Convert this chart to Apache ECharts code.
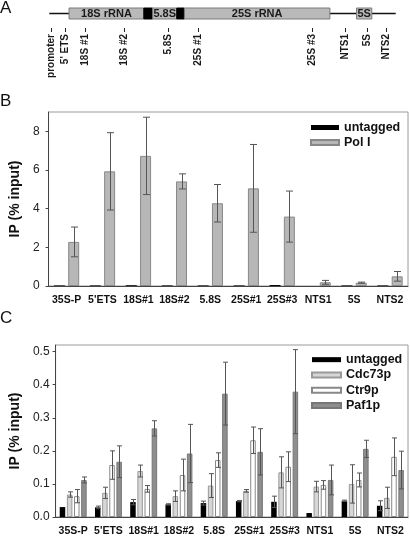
<!DOCTYPE html>
<html><head><meta charset="utf-8">
<script src="https://cdn.jsdelivr.net/npm/echarts@6/dist/echarts.min.js"></script>
<style>html,body{margin:0;padding:0;background:#fff}#c{width:410px;height:537px}</style>
</head><body><div id="c"></div>
<script>
const FONT = "'Liberation Sans', Arial, sans-serif";

// ---- Panel A: gene map (arbitrary position units along the locus, 0-100)
const lineExtent = [0, 100];
const segStart = [5.7, 27.3, 29.85, 36.8, 39.0, 88.7];
const segEnd   = [27.3, 29.85, 36.8, 39.0, 81.0, 93.1];
const segLabel = ['18S rRNA', '', '5.8S', '', '25S rRNA', '5S'];
const segKind  = ['rrna', 'spacer', 'rrna', 'spacer', 'rrna', 'rrna'];
const siteNames = ['promoter', "5' ETS", '18S #1', '18S #2', '5.8S', '25S #1', '25S #3', 'NTS1', '5S', 'NTS2'];
const sitePos   = [0.6, 4.5, 10.3, 21.6, 34.4, 42.8, 75.7, 85.5, 91.6, 97.2];

// ---- Shared categories
const categories = ['35S-P', "5'ETS", '18S#1', '18S#2', '5.8S', '25S#1', '25S#3', 'NTS1', '5S', 'NTS2'];

// ---- Panel B
const bUntagged = [0.03, 0.03, 0.04, 0.03, 0.03, 0.03, 0.05, 0.0, 0.03, 0.03];
const bPolI     = [2.28, 5.93, 6.73, 5.41, 4.28, 5.05, 3.59, 0.19, 0.17, 0.50];
const bPolIErr  = [0.77, 2.00, 2.00, 0.39, 0.97, 2.27, 1.32, 0.10, 0.03, 0.25];

// ---- Panel C
const cUntagged    = [0.030, 0.029, 0.045, 0.038, 0.042, 0.048, 0.046, 0.012, 0.049, 0.034];
const cUntaggedErr = [0, 0.004, 0.008, 0.002, 0.006, 0.002, 0.017, 0, 0.002, 0.015];
const cCdc73       = [0.068, 0.073, 0.139, 0.063, 0.095, 0.079, 0.135, 0.092, 0.100, 0.058];
const cCdc73Err    = [0.008, 0.017, 0.018, 0.016, 0.036, 0.004, 0.047, 0.016, 0.058, 0.032];
const cCtr9        = [0.063, 0.157, 0.085, 0.127, 0.172, 0.232, 0.152, 0.097, 0.112, 0.182];
const cCtr9Err     = [0.020, 0.043, 0.010, 0.048, 0.022, 0.040, 0.045, 0.013, 0.021, 0.057];
const cPaf1        = [0.112, 0.167, 0.268, 0.192, 0.373, 0.197, 0.379, 0.112, 0.206, 0.142];
const cPaf1Err     = [0.009, 0.048, 0.023, 0.088, 0.095, 0.070, 0.127, 0.045, 0.026, 0.057];

const chart = echarts.init(document.getElementById('c'), null, {renderer: 'canvas'});

function errRender(idx, n, bw, gapRatio, cap, color) {
  return function (params, api) {
    const e = api.value(2);
    if (!e) return {type: 'group', children: []};
    const cat = api.value(0), v = api.value(1);
    const top = api.coord([cat, v + e]);
    const bot = api.coord([cat, Math.max(v - e, 0)]);
    const gap = bw * gapRatio;
    const total = n * bw + (n - 1) * gap;
    const x = Math.round(top[0] - total / 2 + idx * (bw + gap) + bw / 2) + 0.5;
    const st = {stroke: color, lineWidth: 1};
    return {type: 'group', children: [
      {type: 'line', shape: {x1: x, y1: top[1], x2: x, y2: bot[1]}, style: st},
      {type: 'line', shape: {x1: x - cap / 2, y1: top[1], x2: x + cap / 2, y2: top[1]}, style: st},
      {type: 'line', shape: {x1: x - cap / 2, y1: bot[1], x2: x + cap / 2, y2: bot[1]}, style: st}
    ]};
  };
}
function errData(vals, errs) { return vals.map((v, i) => [i, v, errs[i]]); }

const catAxis = (gi) => ({
  gridIndex: gi, type: 'category', data: categories,
  axisLine: {lineStyle: {color: '#444', width: 1}},
  axisTick: {show: false},
  axisLabel: {interval: 0, fontFamily: FONT, fontSize: 10.5, fontWeight: 'bold', color: '#111', margin: 9}
});
const valAxis = (gi, max, interval, margin, fmt) => ({
  gridIndex: gi, type: 'value', min: 0, max: max, interval: interval,
  name: 'IP (% input)', nameLocation: 'middle', nameGap: 24, nameRotate: 90,
  nameTextStyle: {fontFamily: FONT, fontSize: 14, fontWeight: 'bold', color: '#111'},
  axisLine: {show: true, lineStyle: {color: '#444', width: 1}},
  axisTick: {show: true, length: 3, lineStyle: {color: '#444'}},
  splitLine: {show: false},
  axisLabel: {fontFamily: FONT, fontSize: 12, color: '#222', margin: margin, showMaxLabel: false, formatter: fmt}
});

const BW_B = 11, GAP_B = 0.3, BW_C = 5.5, GAP_C = 0.3;
const ERRC = '#555';

const option = {
  animation: false,
  backgroundColor: '#fff',
  textStyle: {fontFamily: FONT},
  title: [
    {text: 'A', left: 0, top: 0, textStyle: {fontFamily: FONT, fontSize: 17, fontWeight: 'normal', color: '#111'}, padding: 0},
    {text: 'B', left: 0, top: 93, textStyle: {fontFamily: FONT, fontSize: 17, fontWeight: 'normal', color: '#111'}, padding: 0},
    {text: 'C', left: 0, top: 310, textStyle: {fontFamily: FONT, fontSize: 17, fontWeight: 'normal', color: '#111'}, padding: 0}
  ],
  legend: [
    {data: ['untagged', 'Pol I'], orient: 'vertical', left: 310, top: 120, padding: 0, itemGap: 0,
     itemWidth: 28, itemHeight: 5, icon: 'rect', selectedMode: false,
     textStyle: {fontFamily: FONT, fontSize: 12.5, fontWeight: 'bold', color: '#111', lineHeight: 15}},
    {data: ['untagged', 'Cdc73p', 'Ctr9p', 'Paf1p'], orient: 'vertical', left: 311, top: 352, padding: 0, itemGap: 0,
     itemWidth: 29, itemHeight: 5, icon: 'rect', selectedMode: false,
     textStyle: {fontFamily: FONT, fontSize: 12.5, fontWeight: 'bold', color: '#111', lineHeight: 15.3}}
  ],
  grid: [
    {left: 43, right: 2, top: 112, height: 174, show: true, borderColor: '#9a9a9a', borderWidth: 1, backgroundColor: 'transparent'},
    {left: 43, right: 2, top: 345, height: 174, show: true, borderColor: '#9a9a9a', borderWidth: 1, backgroundColor: 'transparent'},
    {left: 49.3, right: 14.3, top: 8, height: 11}
  ],
  xAxis: [
    catAxis(0), catAxis(1),
    {gridIndex: 2, type: 'value', min: lineExtent[0], max: lineExtent[1], show: false}
  ],
  yAxis: [
    valAxis(0, 9, 2, 9, v => String(v)),
    valAxis(1, 0.52, 0.1, 6, v => v.toFixed(1)),
    {gridIndex: 2, type: 'value', min: 0, max: 1, show: false}
  ],
  series: [
    // Panel B
    {name: 'untagged', type: 'bar', xAxisIndex: 0, yAxisIndex: 0, data: bUntagged, barWidth: BW_B, barGap: '30%',
     itemStyle: {color: '#000'}},
    {name: 'Pol I', type: 'bar', xAxisIndex: 0, yAxisIndex: 0, data: bPolI, barWidth: BW_B, barGap: '30%',
     itemStyle: {color: '#b7b7b7', borderColor: '#888', borderWidth: 1}},
    {name: 'errPolI', type: 'custom', xAxisIndex: 0, yAxisIndex: 0, data: errData(bPolI, bPolIErr),
     encode: {x: 0, y: 1}, z: 5, renderItem: errRender(1, 2, BW_B, GAP_B, 7, ERRC)},
    // Panel C
    {name: 'untagged', type: 'bar', xAxisIndex: 1, yAxisIndex: 1, data: cUntagged, barWidth: BW_C, barGap: '30%',
     itemStyle: {color: '#000'}},
    {name: 'Cdc73p', type: 'bar', xAxisIndex: 1, yAxisIndex: 1, data: cCdc73, barWidth: BW_C, barGap: '30%',
     itemStyle: {color: '#d6d6d6', borderColor: '#999', borderWidth: 1}},
    {name: 'Ctr9p', type: 'bar', xAxisIndex: 1, yAxisIndex: 1, data: cCtr9, barWidth: BW_C, barGap: '30%',
     itemStyle: {color: '#ffffff', borderColor: '#888', borderWidth: 1}},
    {name: 'Paf1p', type: 'bar', xAxisIndex: 1, yAxisIndex: 1, data: cPaf1, barWidth: BW_C, barGap: '30%',
     itemStyle: {color: '#8e8e8e', borderColor: '#777', borderWidth: 1}},
    {name: 'errU', type: 'custom', xAxisIndex: 1, yAxisIndex: 1, data: errData(cUntagged, cUntaggedErr),
     encode: {x: 0, y: 1}, z: 5, renderItem: errRender(0, 4, BW_C, GAP_C, 5, ERRC)},
    {name: 'errCdc', type: 'custom', xAxisIndex: 1, yAxisIndex: 1, data: errData(cCdc73, cCdc73Err),
     encode: {x: 0, y: 1}, z: 5, renderItem: errRender(1, 4, BW_C, GAP_C, 5, ERRC)},
    {name: 'errCtr', type: 'custom', xAxisIndex: 1, yAxisIndex: 1, data: errData(cCtr9, cCtr9Err),
     encode: {x: 0, y: 1}, z: 5, renderItem: errRender(2, 4, BW_C, GAP_C, 5, ERRC)},
    {name: 'errPaf', type: 'custom', xAxisIndex: 1, yAxisIndex: 1, data: errData(cPaf1, cPaf1Err),
     encode: {x: 0, y: 1}, z: 5, renderItem: errRender(3, 4, BW_C, GAP_C, 5, ERRC)},
    // Panel A
    {name: 'backbone', type: 'line', xAxisIndex: 2, yAxisIndex: 2, data: lineExtent.map(x => [x, 0.5]),
     showSymbol: false, symbol: 'none', z: 1, lineStyle: {color: '#111', width: 1.3}, silent: true},
    {name: 'segments', type: 'custom', xAxisIndex: 2, yAxisIndex: 2, z: 3,
     data: segStart.map((s, i) => [s, segEnd[i]]), encode: {x: [0, 1]},
     renderItem: function (params, api) {
       const i = params.dataIndex;
       const p0 = api.coord([api.value(0), 1]);
       const p1 = api.coord([api.value(1), 0]);
       const spacer = segKind[i] === 'spacer';
       const children = [{type: 'rect', shape: {x: p0[0], y: p0[1], width: p1[0] - p0[0], height: p1[1] - p0[1]},
         style: {fill: spacer ? '#000' : '#b9b9b9', stroke: spacer ? '#000' : '#7a7a7a', lineWidth: 1}}];
       if (segLabel[i]) children.push({type: 'text', x: (p0[0] + p1[0]) / 2, y: (p0[1] + p1[1]) / 2 + 0.5,
         style: {text: segLabel[i], align: 'center', verticalAlign: 'middle', font: 'bold 11px ' + FONT, fill: '#1a1a1a'}});
       return {type: 'group', children: children};
     }},
    {name: 'sites', type: 'custom', xAxisIndex: 2, yAxisIndex: 2, z: 3,
     data: sitePos.map(p => [p, 0]), encode: {x: 0, y: 1},
     renderItem: function (params, api) {
       const i = params.dataIndex;
       const p = api.coord([api.value(0), 0]);
       const x = Math.round(p[0]) + 0.5;
       return {type: 'group', children: [
         {type: 'line', shape: {x1: x, y1: p[1] + 9, x2: x, y2: p[1] + 13}, style: {stroke: '#222', lineWidth: 1}},
         {type: 'text', x: x - 0.5, y: p[1] + 15, rotation: Math.PI / 2,
          style: {text: siteNames[i], align: 'right', verticalAlign: 'middle', font: 'bold 10px ' + FONT, fill: '#1a1a1a'}}
       ]};
     }}
  ]
};
chart.setOption(option);
</script></body></html>
